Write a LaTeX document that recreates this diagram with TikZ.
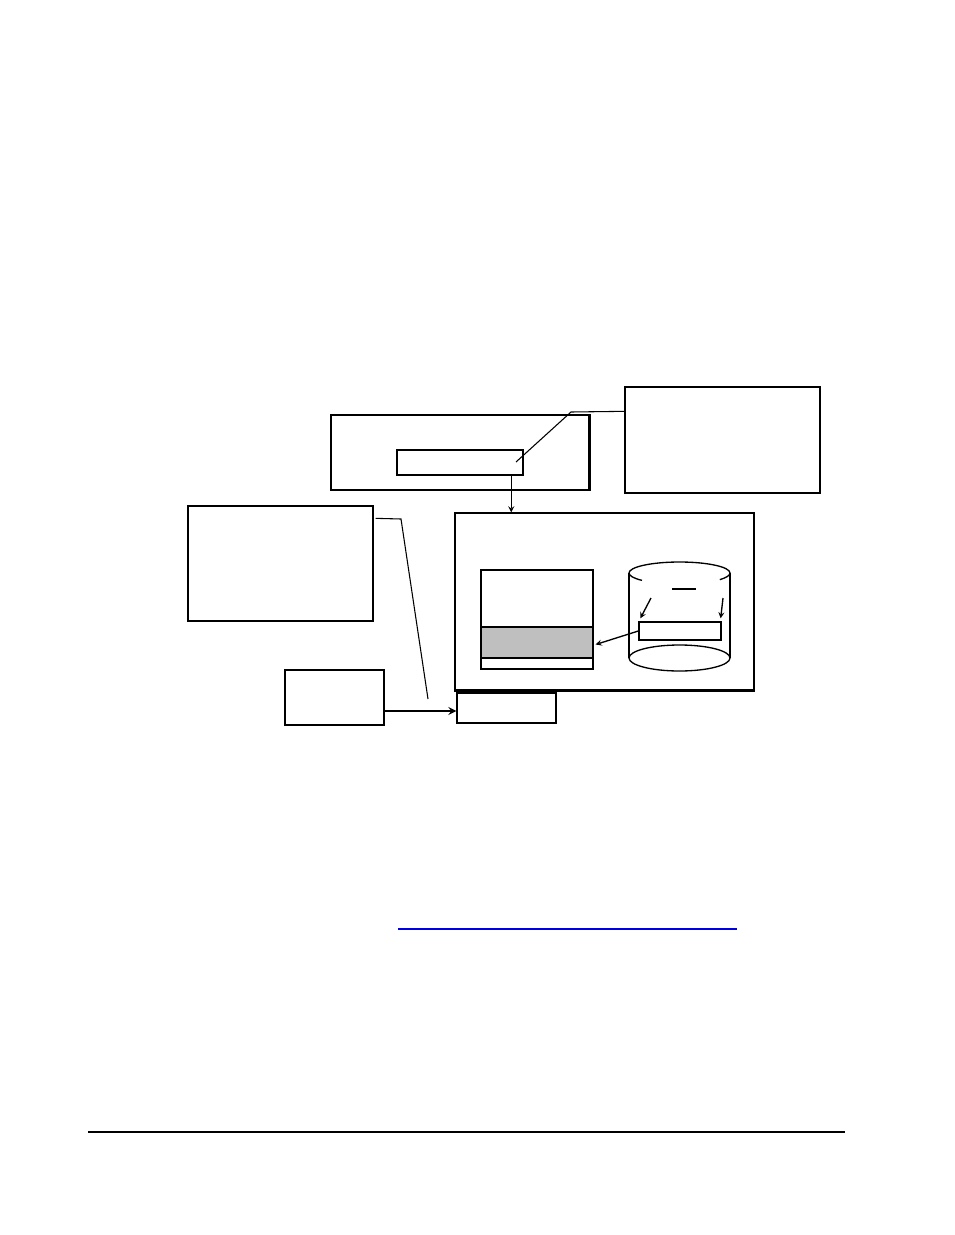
\documentclass[tikz,border=0pt]{standalone}
\usepackage{tikz}
\usetikzlibrary{shapes.geometric, arrows}
\newdimen\pxu \pxu=0.75pt

\begin{document}
\begin{tikzpicture}[x=0.75pt,y=-0.75pt]
\tikzstyle{box}=[rectangle, draw=black, fill=white, line width=1pt, inner sep=0pt]
\tikzstyle{boldbox}=[box, line width=1.8pt]
\tikzstyle{arrow}=[->,>=stealth, line width=1pt]
\tikzstyle{lead}=[line width=0.8pt]
\useasboundingbox (0,0) rectangle (954,1235);
% upper part
\node[box, minimum width=258\pxu, minimum height=75\pxu] (top) at (460,452.5) {};
\draw[line width=1.8pt] (top.north east) -- (top.south east);
\node[boldbox, minimum width=126\pxu, minimum height=25\pxu] (rec) at (460,462.5) {};
\node[box, minimum width=195\pxu, minimum height=106\pxu] (note1) at (722.5,440) {};
\node[box, minimum width=299\pxu, minimum height=177\pxu] (big) at (604.5,601.5) {};
\draw[line width=1.8pt] (big.south west) -- (big.south east);
\node[box, minimum width=112\pxu, minimum height=99\pxu] (stack) at (537,619.5) {};
\node[box, fill=black!25, minimum width=112\pxu, minimum height=31\pxu] (slot) at (537,642.5) {};
% cylinder
\draw[line width=1pt] (629,573) arc[start angle=180, end angle=360, x radius=50.5, y radius=11];
\draw[line width=1pt] (629,573) arc[start angle=180, end angle=138, x radius=50.5, y radius=11];
\draw[line width=1pt] (730,573) arc[start angle=0, end angle=37, x radius=50.5, y radius=11];
\draw[line width=0.8pt] (672,589) -- (696,589);
\draw[line width=1pt] (629,573) -- (629,658);
\draw[line width=1pt] (730,573) -- (730,658);
\draw[line width=1pt, fill=white] (679.5,658) ellipse[x radius=50.5, y radius=13];
\node[box, minimum width=82\pxu, minimum height=18\pxu] (rec2) at (680,631) {};
\coordinate (c1) at (651,598);
\coordinate (c2) at (723,598);
% lower left
\node[box, minimum width=185\pxu, minimum height=115\pxu] (note2) at (280.5,563.5) {};
\node[boldbox, minimum width=99\pxu, minimum height=55\pxu] (src) at (334.5,697.5) {};
\node[box, minimum width=99\pxu, minimum height=30\pxu] (tgt) at (506.5,708) {};
\coordinate (n1) at (571,412);
\coordinate (n2) at (516,462);
\coordinate (m1) at (401,519);
\coordinate (m2) at (428,699);
% connectors
\draw[lead] ([yshift=-25\pxu]note1.north west) -- (n1) -- (n2);
\draw[lead] ([xshift=2\pxu,yshift=-13\pxu]note2.north east) -- (m1) -- (m2);
\draw[arrow] ([xshift=-13\pxu]rec.south east) -- ([xshift=-13\pxu]rec.south east |- big.north);
\draw[arrow] (c1) -- ([xshift=2\pxu,yshift=3\pxu]rec2.north west);
\draw[arrow] (c2) -- ([xshift=-1\pxu,yshift=3\pxu]rec2.north east);
\draw[arrow] (rec2.west) -- ([xshift=2\pxu,yshift=-2\pxu]slot.east);
\draw[arrow, line width=1.6pt] ([yshift=-3\pxu]src.east |- tgt.west) -- ([yshift=-3\pxu]tgt.west);
% rules
\draw[blue!90!black, line width=1pt] (398,929) -- (737,929);
\draw[line width=1.8pt] (88,1132) -- (845,1132);
\end{tikzpicture}
\end{document}
